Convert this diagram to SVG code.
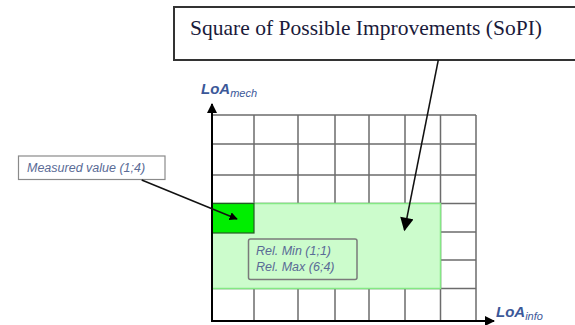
<svg xmlns="http://www.w3.org/2000/svg" width="575" height="325" viewBox="0 0 575 325">
<style>
.grid{stroke:#6c6c6c;stroke-width:1.5;fill:none}
.axis{stroke:#000;stroke-width:2;fill:none}
.lbl{font-family:"Liberation Sans",Arial,sans-serif;font-style:italic;fill:#5a6b96;font-size:12.5px}
.loa{font-family:"Liberation Sans",Arial,sans-serif;font-style:italic;font-weight:bold;fill:#3b5899;font-size:15px}
.sub{font-weight:normal;font-size:11px}
.conn{stroke:#111;stroke-width:1.5;fill:none}
</style>
<defs>
<marker id="ah" viewBox="0 0 10 10" refX="9" refY="5" markerWidth="5" markerHeight="5" orient="auto" markerUnits="strokeWidth"><path d="M0,0 L10,5 L0,10 z" fill="#000"/></marker>
<marker id="ahm" viewBox="0 0 10 10" refX="9" refY="5" markerWidth="5.5" markerHeight="5.5" orient="auto" markerUnits="strokeWidth"><path d="M0,0 L10,5 L0,10 z" fill="#000"/></marker>
<marker id="ahs" viewBox="0 0 10 10" refX="9" refY="5" markerWidth="9.5" markerHeight="9" orient="auto" markerUnits="strokeWidth"><path d="M0,0 L10,5 L0,10 z" fill="#000"/></marker>
</defs>
<rect width="575" height="325" fill="#fff"/>
<g id="grid">
<path class="grid" d="M212,115H476 M212,144H476 M212,175H476 M212,203.5H476 M212,232H476 M212,260H476 M212,288.5H476 M476,115V321 M254,115V321 M298,115V321 M335,115V321 M369,115V321 M405,115V321 M440.5,115V321"/>
</g>
<g id="sopi">
<rect x="212" y="203.5" width="228.5" height="85" fill="#ccfccc" stroke="#84e884" stroke-width="1.5"/>
</g>
<g id="measured-cell">
<rect x="212" y="203.5" width="42" height="29.5" fill="#00ee00" stroke="#245a24" stroke-width="1.2"/>
</g>
<g id="axes">
<path class="axis" d="M212,321V104" marker-end="url(#ah)"/>
<path class="axis" d="M211,321H494" marker-end="url(#ah)"/>
</g>
<g id="rel-box">
<rect x="248.5" y="239" width="108.5" height="40.5" rx="2" fill="none" stroke="#7a7a7a" stroke-width="1.5"/>
<text class="lbl" x="256" y="255">Rel. Min (1;1)</text>
<text class="lbl" x="256" y="270.5">Rel. Max (6;4)</text>
</g>
<g id="measured-box">
<rect x="18.5" y="156" width="146.5" height="23.5" fill="#fff" stroke="#8a8a8a" stroke-width="1.2"/>
<text class="lbl" x="27" y="172">Measured value (1;4)</text>
</g>
<g id="title-box">
<rect x="174" y="7" width="410" height="53" fill="#fff" stroke="#333" stroke-width="2"/>
<text x="190" y="35" font-family="'Liberation Serif','Times New Roman',serif" font-size="21.5" fill="#1a1a3a" textLength="352">Square of Possible Improvements (SoPI)</text>
</g>
<g id="axis-labels">
<text class="loa" x="201" y="93.5">LoA<tspan class="sub" dy="3">mech</tspan></text>
<text class="loa" x="496" y="317">LoA<tspan class="sub" dy="3">info</tspan></text>
</g>
<g id="connectors">
<path class="conn" d="M141.7,180L237,219" marker-end="url(#ahm)" stroke-width="1.8"/>
<path class="conn" d="M438.3,60L404.5,230" marker-end="url(#ahs)"/>
</g>
</svg>
